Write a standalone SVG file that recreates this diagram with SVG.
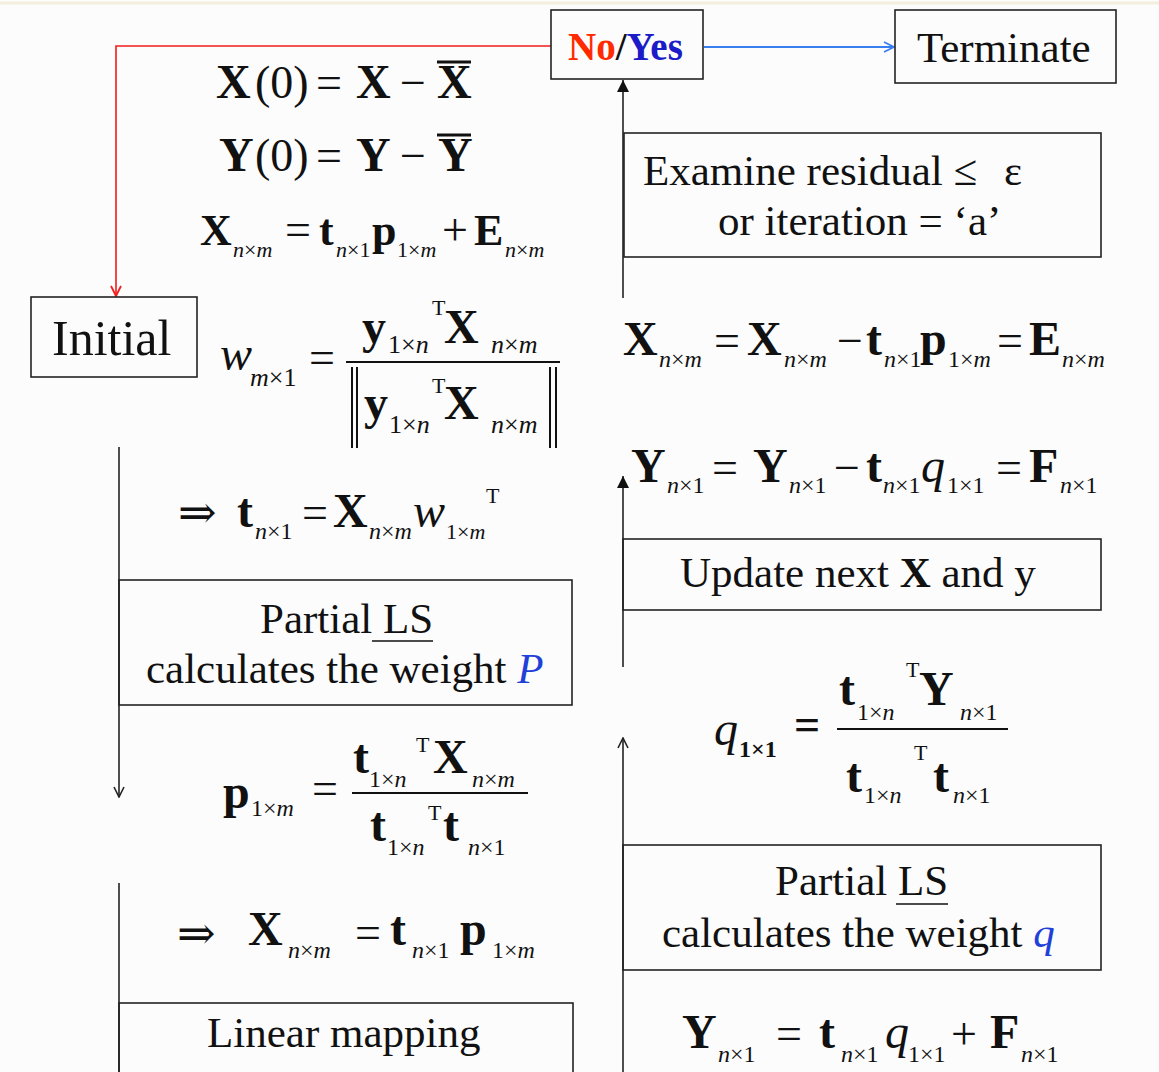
<svg xmlns="http://www.w3.org/2000/svg" width="1159" height="1072" viewBox="0 0 1159 1072">
<style>
text{font-family:"Liberation Serif","DejaVu Serif",serif;fill:#111}
.box{fill:none;stroke:#222;stroke-width:1.6}
.lbl{font-size:43px}
.b{font-weight:bold;font-size:48px}
.b44{font-weight:bold;font-size:44px}
.r{font-size:46px}
.s{font-size:24px}
.s22{font-size:22px}
.s26{font-size:26px}
.i{font-style:italic}
.iq{font-style:italic;font-size:48px}
.sup{font-size:22px}
.bar{stroke:#111;stroke-width:2}
.con{fill:none;stroke:#222;stroke-width:1.6}
.blue{fill:#2040d8}
</style>
<defs>
<marker id="afill" viewBox="0 0 12 12" refX="12" refY="6" markerWidth="12" markerHeight="12" markerUnits="userSpaceOnUse" orient="auto"><path d="M0,0 L12,6 L0,12 z" fill="#111"/></marker>
<marker id="aopen" viewBox="0 0 12 12" refX="11" refY="6" markerWidth="12" markerHeight="12" markerUnits="userSpaceOnUse" orient="auto"><path d="M1,1 L11,6 L1,11" fill="none" stroke="#222" stroke-width="1.6"/></marker>
<marker id="ared" viewBox="0 0 12 12" refX="11" refY="6" markerWidth="12" markerHeight="12" markerUnits="userSpaceOnUse" orient="auto"><path d="M1,1 L11,6 L1,11" fill="none" stroke="#f21c1c" stroke-width="1.8"/></marker>
<marker id="ablue" viewBox="0 0 12 12" refX="11" refY="6" markerWidth="12" markerHeight="12" markerUnits="userSpaceOnUse" orient="auto"><path d="M1,1 L11,6 L1,11" fill="none" stroke="#3a7ff0" stroke-width="1.8"/></marker>
</defs>
<rect x="0" y="0" width="1159" height="1072" fill="#fcfcfc"/>
<line x1="0" y1="3" x2="1159" y2="3" stroke="#f3efdc" stroke-width="3"/>

<g id="connectors">
<path class="con" d="M551,46 H116 V296" style="stroke:#f21c1c" marker-end="url(#ared)"/>
<path class="con" d="M704,47 H894" style="stroke:#3a7ff0;stroke-width:2" marker-end="url(#ablue)"/>
<path class="con" d="M623,298 V80" marker-end="url(#afill)"/>
<path class="con" d="M623,667 V476" marker-end="url(#afill)"/>
<path class="con" d="M623,1072 V738" marker-end="url(#aopen)"/>
<path class="con" d="M119,447 V797" marker-end="url(#aopen)"/>
<path class="con" d="M119,883 V1072"/>
</g>

<g id="node-noyes">
<rect class="box" x="551" y="10" width="152" height="69"/>
<text x="568" y="60" style="font-weight:bold;font-size:39px"><tspan style="fill:#ff2a00">No</tspan>/<tspan style="fill:#1b1bc8">Yes</tspan></text>
</g>
<g id="node-terminate">
<rect class="box" x="895" y="10" width="221" height="73"/>
<text class="lbl" x="917" y="62">Terminate</text>
</g>
<g id="node-examine">
<rect class="box" x="624" y="133" width="477" height="124"/>
<text class="lbl" x="643" y="185">Examine residual ≤<tspan x="1004">ε</tspan></text>
<text class="lbl" x="718" y="235">or iteration = ‘a’</text>
</g>
<g id="node-initial">
<rect class="box" x="31" y="297" width="166" height="80"/>
<text x="52" y="355" style="font-size:50px">Initial</text>
</g>
<g id="node-partial-p">
<rect class="box" x="119" y="580" width="453" height="125"/>
<text class="lbl" x="260" y="633">Partial LS</text>
<line x1="372" y1="641" x2="433" y2="641" stroke="#111" stroke-width="1.6"/>
<text class="lbl" x="146" y="683">calculates the weight <tspan class="i blue">P</tspan></text>
</g>
<g id="node-linear">
<rect class="box" x="119" y="1003" width="454" height="80"/>
<text class="lbl" x="207" y="1047">Linear mapping</text>
</g>
<g id="node-update">
<rect class="box" x="623" y="539" width="478" height="71"/>
<text class="lbl" x="680" y="587">Update next <tspan font-weight="bold">X</tspan> and y</text>
</g>
<g id="node-partial-q">
<rect class="box" x="623" y="845" width="478" height="125"/>
<text class="lbl" x="775" y="895">Partial LS</text>
<line x1="896" y1="904" x2="948" y2="904" stroke="#111" stroke-width="1.6"/>
<text class="lbl" x="662" y="947">calculates the weight <tspan class="i blue">q</tspan></text>
</g>

<g id="eq-x0">
<text><tspan class="b" x="216" y="98">X</tspan><tspan class="r" x="255" y="98">(0)</tspan><tspan class="r" x="316" y="98">=</tspan><tspan class="b" x="356" y="98">X</tspan><tspan class="r" x="400" y="98">−</tspan><tspan class="b" x="437" y="98">X</tspan></text>
<line x1="437" y1="62" x2="471" y2="62" stroke="#111" stroke-width="3"/>
</g>
<g id="eq-y0">
<text><tspan class="b" x="219" y="171">Y</tspan><tspan class="r" x="255" y="171">(0)</tspan><tspan class="r" x="316" y="171">=</tspan><tspan class="b" x="356" y="171">Y</tspan><tspan class="r" x="400" y="171">−</tspan><tspan class="b" x="438" y="171">Y</tspan></text>
<line x1="437" y1="135" x2="471" y2="135" stroke="#111" stroke-width="3"/>
</g>
<g id="eq-xmodel">
<text><tspan class="b44" x="200" y="245">X</tspan><tspan class="s22" x="233" y="257"><tspan class="i">n</tspan>×<tspan class="i">m</tspan></tspan><tspan class="r" x="285" y="245">=</tspan><tspan class="b44" x="319" y="245">t</tspan><tspan class="s22" x="336" y="257"><tspan class="i">n</tspan>×1</tspan><tspan class="b44" x="372" y="245">p</tspan><tspan class="s22" x="397" y="257">1×<tspan class="i">m</tspan></tspan><tspan class="r" x="442" y="245">+</tspan><tspan class="b44" x="474" y="245">E</tspan><tspan class="s22" x="505" y="257"><tspan class="i">n</tspan>×<tspan class="i">m</tspan></tspan></text>
</g>
<g id="eq-w">
<text><tspan class="iq" x="220" y="370">w</tspan><tspan class="s26" x="250" y="386"><tspan class="i">m</tspan>×1</tspan><tspan class="r" x="309" y="373">=</tspan>
<tspan class="b" x="362" y="343">y</tspan><tspan class="s26" x="388" y="353">1×<tspan class="i">n</tspan></tspan><tspan class="sup" x="432" y="315">T</tspan><tspan class="b" x="444" y="343">X</tspan><tspan class="s26" x="491" y="353"><tspan class="i">n</tspan>×<tspan class="i">m</tspan></tspan>
<tspan class="b" x="364" y="419">y</tspan><tspan class="s26" x="389" y="433">1×<tspan class="i">n</tspan></tspan><tspan class="sup" x="432" y="393">T</tspan><tspan class="b" x="444" y="419">X</tspan><tspan class="s26" x="491" y="433"><tspan class="i">n</tspan>×<tspan class="i">m</tspan></tspan></text>
<line class="bar" x1="346" y1="362" x2="560" y2="362"/>
<path d="M352,367 V448 M357,367 V448 M550,367 V448 M556,367 V448" stroke="#111" stroke-width="2" fill="none"/>
</g>
<g id="eq-t">
<text><tspan class="r" x="178" y="528">⇒</tspan><tspan class="b" x="237" y="527">t</tspan><tspan class="s" x="255" y="539"><tspan class="i">n</tspan>×1</tspan><tspan class="r" x="302" y="528">=</tspan><tspan class="b" x="333" y="527">X</tspan><tspan class="s" x="369" y="539"><tspan class="i">n</tspan>×<tspan class="i">m</tspan></tspan><tspan class="iq" x="413" y="527">w</tspan><tspan class="s22" x="446" y="539">1×<tspan class="i">m</tspan></tspan><tspan class="sup" x="486" y="503">T</tspan></text>
</g>
<g id="eq-p">
<text><tspan class="b" x="223" y="808">p</tspan><tspan class="s" x="251" y="816">1×<tspan class="i">m</tspan></tspan><tspan class="r" x="312" y="804">=</tspan>
<tspan class="b" x="353" y="773">t</tspan><tspan class="s" x="369" y="787">1×<tspan class="i">n</tspan></tspan><tspan class="sup" x="416" y="752">T</tspan><tspan class="b" x="433" y="773">X</tspan><tspan class="s" x="472" y="787"><tspan class="i">n</tspan>×<tspan class="i">m</tspan></tspan>
<tspan class="b" x="370" y="841">t</tspan><tspan class="s" x="387" y="855">1×<tspan class="i">n</tspan></tspan><tspan class="sup" x="428" y="820">T</tspan><tspan class="b" x="443" y="841">t</tspan><tspan class="s" x="468" y="855"><tspan class="i">n</tspan>×1</tspan></text>
<line class="bar" x1="352" y1="793" x2="528" y2="793"/>
</g>
<g id="eq-xhat">
<text><tspan class="r" x="177" y="949">⇒</tspan><tspan class="b" x="248" y="945">X</tspan><tspan class="s" x="288" y="958"><tspan class="i">n</tspan>×<tspan class="i">m</tspan></tspan><tspan class="r" x="355" y="948">=</tspan><tspan class="b" x="390" y="945">t</tspan><tspan class="s" x="412" y="958"><tspan class="i">n</tspan>×1</tspan><tspan class="b" x="460" y="945">p</tspan><tspan class="s" x="492" y="958">1×<tspan class="i">m</tspan></tspan></text>
</g>
<g id="eq-xupdate">
<text><tspan class="b" x="623" y="355">X</tspan><tspan class="s" x="659" y="367"><tspan class="i">n</tspan>×<tspan class="i">m</tspan></tspan><tspan class="r" x="714" y="356">=</tspan><tspan class="b" x="747" y="355">X</tspan><tspan class="s" x="784" y="367"><tspan class="i">n</tspan>×<tspan class="i">m</tspan></tspan><tspan class="r" x="837" y="356">−</tspan><tspan class="b" x="866" y="355">t</tspan><tspan class="s" x="884" y="367"><tspan class="i">n</tspan>×1</tspan><tspan class="b" x="920" y="355">p</tspan><tspan class="s" x="948" y="367">1×<tspan class="i">m</tspan></tspan><tspan class="r" x="997" y="356">=</tspan><tspan class="b" x="1029" y="355">E</tspan><tspan class="s" x="1062" y="367"><tspan class="i">n</tspan>×<tspan class="i">m</tspan></tspan></text>
</g>
<g id="eq-yupdate">
<text><tspan class="b" x="631" y="482">Y</tspan><tspan class="s" x="667" y="493"><tspan class="i">n</tspan>×1</tspan><tspan class="r" x="712" y="483">=</tspan><tspan class="b" x="753" y="482">Y</tspan><tspan class="s" x="789" y="493"><tspan class="i">n</tspan>×1</tspan><tspan class="r" x="834" y="483">−</tspan><tspan class="b" x="866" y="482">t</tspan><tspan class="s" x="883" y="493"><tspan class="i">n</tspan>×1</tspan><tspan class="iq" x="921" y="482">q</tspan><tspan class="s" x="947" y="493">1×1</tspan><tspan class="r" x="996" y="483">=</tspan><tspan class="b" x="1029" y="482">F</tspan><tspan class="s" x="1060" y="493"><tspan class="i">n</tspan>×1</tspan></text>
</g>
<g id="eq-q">
<text><tspan class="iq" x="714" y="745">q</tspan><tspan class="s" x="739" y="757" font-weight="bold">1×1</tspan><tspan class="r" x="794" y="740" font-weight="bold">=</tspan>
<tspan class="b" x="839" y="705">t</tspan><tspan class="s" x="857" y="720">1×<tspan class="i">n</tspan></tspan><tspan class="sup" x="906" y="677">T</tspan><tspan class="b" x="919" y="705">Y</tspan><tspan class="s" x="960" y="720"><tspan class="i">n</tspan>×1</tspan>
<tspan class="b" x="846" y="792">t</tspan><tspan class="s" x="864" y="803">1×<tspan class="i">n</tspan></tspan><tspan class="sup" x="914" y="760">T</tspan><tspan class="b" x="933" y="792">t</tspan><tspan class="s" x="953" y="803"><tspan class="i">n</tspan>×1</tspan></text>
<line class="bar" x1="837" y1="729" x2="1008" y2="729"/>
</g>
<g id="eq-ymodel">
<text><tspan class="b" x="682" y="1048">Y</tspan><tspan class="s" x="718" y="1062"><tspan class="i">n</tspan>×1</tspan><tspan class="r" x="776" y="1049">=</tspan><tspan class="b" x="819" y="1048">t</tspan><tspan class="s" x="841" y="1062"><tspan class="i">n</tspan>×1</tspan><tspan class="iq" x="885" y="1048">q</tspan><tspan class="s" x="908" y="1062">1×1</tspan><tspan class="r" x="951" y="1049">+</tspan><tspan class="b" x="990" y="1048">F</tspan><tspan class="s" x="1021" y="1062"><tspan class="i">n</tspan>×1</tspan></text>
</g>
</svg>
